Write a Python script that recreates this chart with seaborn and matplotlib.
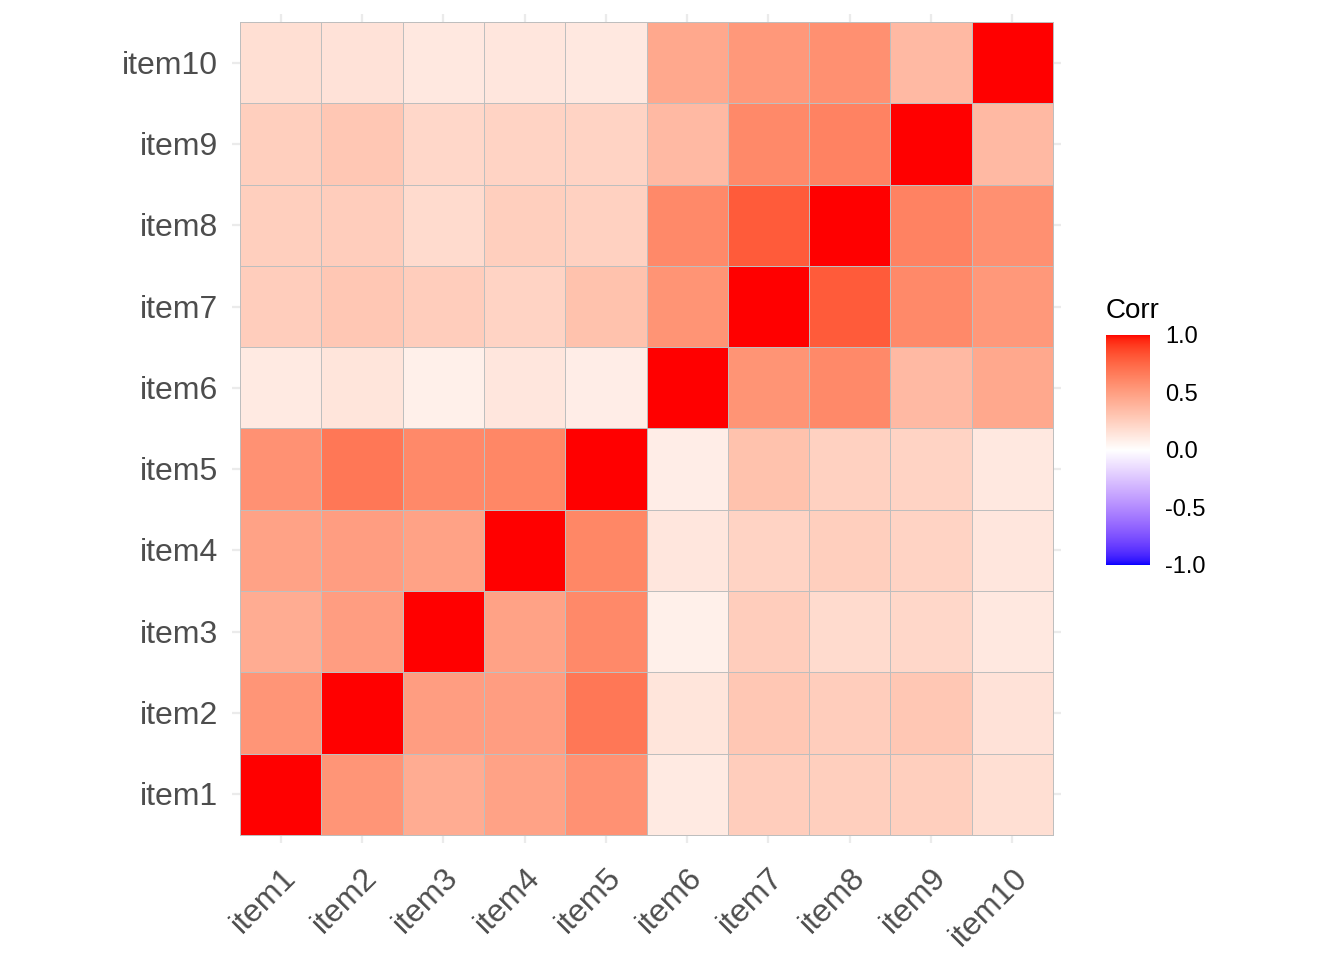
import numpy as np
import pandas as pd
import matplotlib
matplotlib.use("Agg")
import matplotlib.pyplot as plt
import matplotlib.transforms as mtransforms
from matplotlib.colors import ListedColormap
import seaborn as sns

# Δεδομένα: πίνακας συσχετίσεων (γραμμή = item1..item10, στήλη = item1..item10)
items = [f"item{i}" for i in range(1, 11)]
corr_rows = [
    [1.00, 0.54, 0.43, 0.48, 0.56, 0.11, 0.26, 0.25, 0.25, 0.17],
    [0.54, 1.00, 0.50, 0.50, 0.68, 0.14, 0.29, 0.26, 0.29, 0.15],
    [0.43, 0.50, 1.00, 0.48, 0.60, 0.08, 0.26, 0.19, 0.21, 0.12],
    [0.48, 0.50, 0.48, 1.00, 0.61, 0.13, 0.23, 0.25, 0.23, 0.13],
    [0.56, 0.68, 0.60, 0.61, 1.00, 0.09, 0.32, 0.24, 0.23, 0.12],
    [0.11, 0.14, 0.08, 0.13, 0.09, 1.00, 0.55, 0.60, 0.36, 0.45],
    [0.26, 0.29, 0.26, 0.23, 0.32, 0.55, 1.00, 0.80, 0.60, 0.53],
    [0.25, 0.26, 0.19, 0.25, 0.24, 0.60, 0.80, 1.00, 0.63, 0.57],
    [0.25, 0.29, 0.21, 0.23, 0.23, 0.36, 0.60, 0.63, 1.00, 0.36],
    [0.17, 0.15, 0.12, 0.13, 0.12, 0.45, 0.53, 0.57, 0.36, 1.00],
]
cbar_ticks = [-1.0, -0.5, 0.0, 0.5, 1.0]

corr = pd.DataFrame(corr_rows, index=items, columns=items)


# Χρωματική κλίμακα blue-white-red με παρεμβολή σε χώρο Lab (όπως το gradient2 του ggplot)
def lab_to_rgb(L, a, b):
    fy = (L + 16) / 116
    fx = fy + a / 500
    fz = fy - b / 200
    finv = lambda t: np.where(t ** 3 > 0.008856, t ** 3, (t - 16 / 116) / 7.787)
    xyz = np.stack([0.95047 * finv(fx), finv(fy), 1.08883 * finv(fz)])
    M = np.array([[3.2406, -1.5372, -0.4986],
                  [-0.9689, 1.8758, 0.0415],
                  [0.0557, -0.2040, 1.0570]])
    lin = np.clip(M @ xyz, 0, 1)
    rgb = np.where(lin <= 0.0031308, 12.92 * lin, 1.055 * lin ** (1 / 2.4) - 0.055)
    return np.clip(rgb, 0, 1).T


white = np.array([100.0, 0.0, 0.0])
red = np.array([53.24, 80.09, 67.20])
blue = np.array([32.30, 79.19, -107.86])
t = np.linspace(-1, 1, 512)
lab = np.where(t[:, None] < 0,
               white + (-t[:, None]) * (blue - white),
               white + t[:, None] * (red - white))
cmap = ListedColormap(lab_to_rgb(lab[:, 0], lab[:, 1], lab[:, 2]))

sns.set_theme(style="white")
plt.rcParams["font.family"] = ["Liberation Sans", "DejaVu Sans"]

fig = plt.figure(figsize=(13.44, 9.6), dpi=100)
ax = fig.add_axes([232 / 1344, 1 - 843 / 960, 829 / 1344, 829 / 960])

sns.heatmap(corr.iloc[::-1], ax=ax, cmap=cmap, vmin=-1, vmax=1, cbar=False,
            linewidths=0.5, linecolor="#BEBEBE")

ax.set_xlim(-0.1, 10.1)
ax.set_ylim(10.1, -0.1)
ax.set_axisbelow(True)
ax.grid(True, color="#EBEBEB", lw=1.6)
for s in ax.spines.values():
    s.set_visible(False)
ax.tick_params(length=0, labelsize=23, labelcolor="#4D4D4D", pad=10)
ax.set_xticklabels(items, rotation=45, ha="right", rotation_mode="anchor")
ax.set_yticklabels(items[::-1], rotation=0)
ax.tick_params(axis="x", pad=14)
ax.set_xlabel("")
ax.set_ylabel("")

# μικρή μετατόπιση των ετικετών του y προς τα κάτω
shift = mtransforms.ScaledTranslation(0, -3 / 100, fig.dpi_scale_trans)
for lab_ in ax.get_yticklabels():
    lab_.set_transform(lab_.get_transform() + shift)

# Υπόμνημα
cax = fig.add_axes([1106 / 1344, 1 - 565 / 960, 44 / 1344, 230 / 960])
cb = fig.colorbar(ax.collections[0], cax=cax, ticks=cbar_ticks)
cb.outline.set_visible(False)
cb.ax.set_yticklabels([f"{v:.1f}" for v in cbar_ticks])
cax.tick_params(direction="in", color="white", length=9, width=1.2,
                left=True, right=True, labelsize=17, labelcolor="black", pad=11)
fig.text(1106 / 1344, 1 - 318 / 960, "Corr", fontsize=20, color="black",
         ha="left", va="baseline")

plt.savefig("out.png", dpi=100)
plt.close()
